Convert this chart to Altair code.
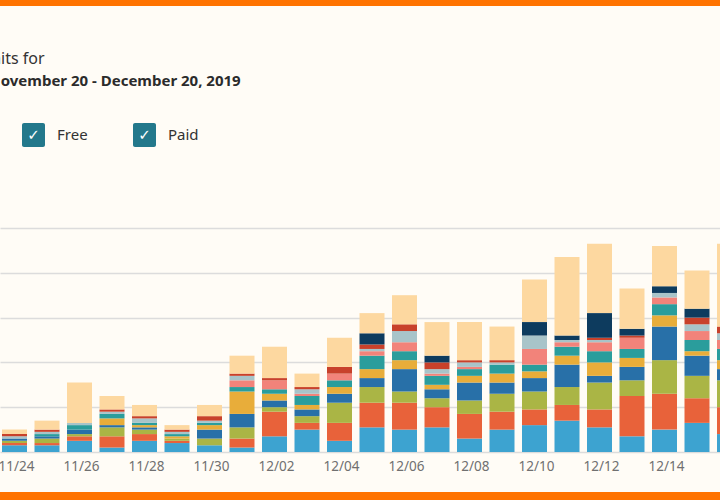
import altair as alt
import pandas as pd

# ---------------- data ----------------
dates = [
    "2019-11-24", "2019-11-25", "2019-11-26", "2019-11-27", "2019-11-28", "2019-11-29",
    "2019-11-30", "2019-12-01", "2019-12-02", "2019-12-03", "2019-12-04", "2019-12-05",
    "2019-12-06", "2019-12-07", "2019-12-08", "2019-12-09", "2019-12-10", "2019-12-11",
    "2019-12-12", "2019-12-13", "2019-12-14", "2019-12-15", "2019-12-16",
]

series_names = ["Title 1", "Title 2", "Title 3", "Title 4", "Title 5", "Title 6",
                "Title 7", "Title 8", "Title 9", "Title 10", "Title 11"]
series_colors = ["#3DA3D0", "#E8623A", "#AAB545", "#2870A8", "#E8AD3A", "#2A9D9C",
                 "#F2837A", "#A8C4C9", "#C8412B", "#0D3B5E", "#FDD8A0"]

s1 = [3, 3, 5, 2, 5, 4, 3, 2, 7, 10, 5, 11, 10, 11, 6, 10, 12, 14, 11, 7, 10, 13, 8]
s2 = [1, 1, 2, 5, 3, 1, 0, 4, 11, 3, 8, 11, 12, 9, 11, 8, 7, 7, 8, 18, 16, 11, 12]
s3 = [1, 2, 1, 4, 2, 1, 3, 5, 2, 3, 9, 7, 5, 4, 6, 8, 8, 8, 12, 7, 15, 10, 12]
s4 = [1, 1, 2, 1, 1, 0, 4, 6, 3, 3, 4, 4, 10, 4, 8, 5, 6, 10, 3, 6, 15, 9, 5]
s5 = [0, 0, 0, 3, 1, 1, 2, 10, 3, 2, 3, 4, 4, 2, 3, 4, 3, 4, 6, 4, 5, 2, 4]
s6 = [0, 1, 2, 2, 1, 1, 1, 2, 2, 4, 3, 6, 4, 4, 3, 4, 3, 4, 5, 4, 5, 5, 5]
s7 = [0, 0, 0, 0, 0, 0, 0, 3, 4, 1, 3, 2, 4, 1, 1, 0, 7, 2, 4, 5, 3, 4, 4]
s8 = [1, 1, 1, 1, 2, 1, 1, 2, 0, 2, 0, 1, 5, 2, 2, 1, 6, 1, 1, 0, 2, 3, 3]
s9 = [1, 1, 0, 1, 1, 1, 2, 1, 1, 1, 3, 2, 3, 3, 1, 1, 0, 0, 1, 1, 0, 3, 3]
s10 = [0, 0, 0, 0, 0, 0, 0, 0, 0, 0, 0, 5, 0, 3, 0, 0, 6, 2, 11, 3, 3, 4, 0]
s11 = [2, 4, 18, 6, 5, 2, 5, 8, 14, 6, 13, 9, 13, 15, 17, 15, 19, 35, 31, 18, 18, 17, 37]
series_values = [s1, s2, s3, s4, s5, s6, s7, s8, s9, s10, s11]

tick_dates = ["2019-11-24", "2019-11-26", "2019-11-28", "2019-11-30", "2019-12-02",
              "2019-12-04", "2019-12-06", "2019-12-08", "2019-12-10", "2019-12-12",
              "2019-12-14", "2019-12-16"]
y_grid = [0, 20, 40, 60, 80, 100]

title_line1 = ["Units for"]
title_line2 = ["November 20 - December 20, 2019"]
legend_free = ["Free"]
legend_paid = ["Paid"]

# ---------------- build table ----------------
rows = []
for i, (name, vals) in enumerate(zip(series_names, series_values)):
    for d, v in zip(dates, vals):
        rows.append({"date": d, "series": name, "k": i, "value": v})
df = pd.DataFrame(rows)


def dt(s, h=0, m=0, sec=0):
    y, mo, d = (int(p) for p in s.split("-"))
    return alt.DateTime(year=y, month=mo, date=d, hours=h, minutes=m, seconds=sec, utc=True)


FONT = "Noto Sans"
H = 224

bars = alt.Chart(df).mark_bar(size=25, clip=True).encode(
    x=alt.X("date:T",
            scale=alt.Scale(type="utc", padding=0,
                            domain=[dt("2019-11-23", 13, 17, 32), dt("2019-12-15", 16, 59, 4)]),
            axis=alt.Axis(values=[dt(t) for t in tick_dates], format="%m/%d", labelFlush=False,
                          grid=False, ticks=False, domain=False, title=None,
                          labelFont=FONT, labelFontSize=13.5, labelColor="#707070",
                          labelPadding=7, labelOffset=1.5, labelOverlap=False, labelBound=False)),
    y=alt.Y("value:Q", stack="zero",
            scale=alt.Scale(domain=[0, 100], nice=False),
            axis=alt.Axis(values=y_grid, grid=True, labels=False, ticks=False, domain=False,
                          title=None, gridColor="#DCDCDC", gridWidth=1.5)),
    color=alt.Color("series:N", scale=alt.Scale(domain=series_names, range=series_colors), legend=None),
    order=alt.Order("k:Q", sort="ascending"),
)

one = pd.DataFrame({"k": [0]})

top_stripe = alt.Chart(one).mark_rect(color="#FF7300").encode(
    x=alt.value(0), x2=alt.value(720), y=alt.value(-228), y2=alt.value(-222))
bottom_stripe = alt.Chart(one).mark_rect(color="#FF7300").encode(
    x=alt.value(0), x2=alt.value(720), y=alt.value(264), y2=alt.value(272))

t1 = alt.Chart(pd.DataFrame({"t": title_line1})).mark_text(
    align="left", baseline="alphabetic", font=FONT, fontSize=16, color="#333333").encode(
    x=alt.value(-20.5), y=alt.value(-164), text="t:N")
t2 = alt.Chart(pd.DataFrame({"t": title_line2})).mark_text(
    align="left", baseline="alphabetic", font=FONT, fontSize=15, fontWeight="bold", color="#2B2B2B").encode(
    x=alt.value(-11.5), y=alt.value(-142), text="t:N")

box_color = "#23788B"
box1 = alt.Chart(one).mark_rect(color=box_color, cornerRadius=2).encode(
    x=alt.value(22), x2=alt.value(45), y=alt.value(-105), y2=alt.value(-81))
box2 = alt.Chart(one).mark_rect(color=box_color, cornerRadius=2).encode(
    x=alt.value(133), x2=alt.value(156), y=alt.value(-105), y2=alt.value(-81))
chk1 = alt.Chart(one).mark_text(text="✓", color="white", fontSize=15, fontWeight="bold",
                                font="DejaVu Sans", baseline="middle", align="center").encode(
    x=alt.value(33.5), y=alt.value(-93))
chk2 = alt.Chart(one).mark_text(text="✓", color="white", fontSize=15, fontWeight="bold",
                                font="DejaVu Sans", baseline="middle", align="center").encode(
    x=alt.value(144.5), y=alt.value(-93))
lab1 = alt.Chart(pd.DataFrame({"t": legend_free})).mark_text(
    align="left", baseline="middle", font=FONT, fontSize=15, color="#333333").encode(
    x=alt.value(57), y=alt.value(-93), text="t:N")
lab2 = alt.Chart(pd.DataFrame({"t": legend_paid})).mark_text(
    align="left", baseline="middle", font=FONT, fontSize=15, color="#333333").encode(
    x=alt.value(168), y=alt.value(-93), text="t:N")

chart = alt.layer(
    bars, top_stripe, bottom_stripe, t1, t2, box1, box2, chk1, chk2, lab1, lab2
).properties(
    width=720, height=H,
    padding={"left": 0, "right": 0, "top": 228, "bottom": 48},
    autosize=alt.AutoSizeParams(type="none"),
    background="#FFFCF6",
).configure_view(stroke=None)

chart.save("out.html", embed_options={"renderer": "svg", "actions": False})
